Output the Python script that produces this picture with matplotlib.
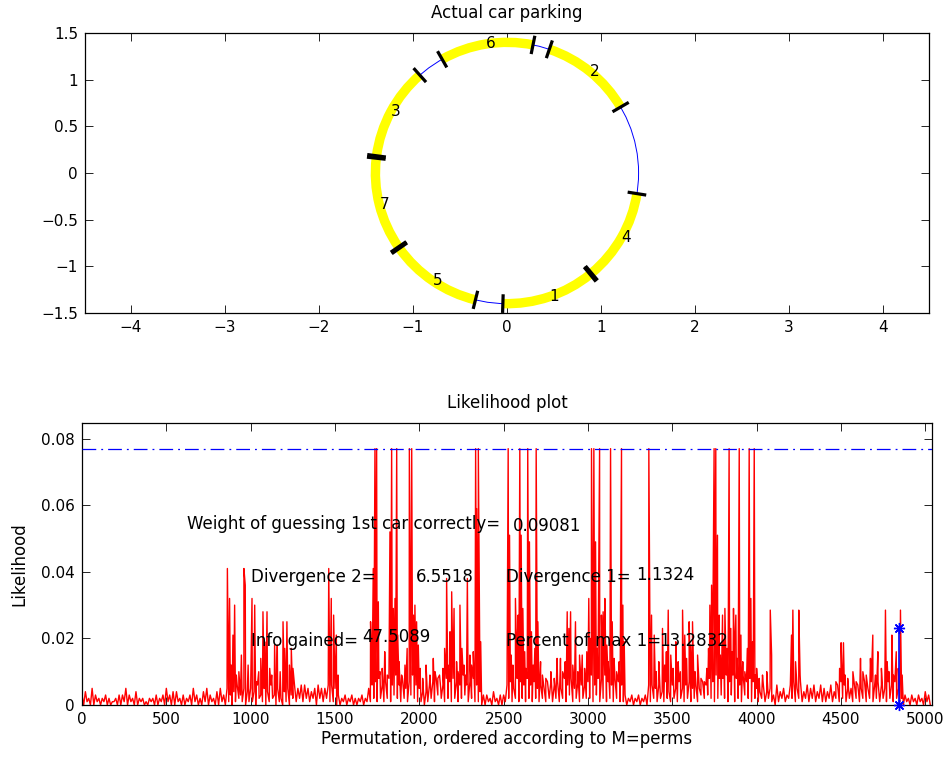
import matplotlib.pyplot as plt
import numpy as np
from matplotlib.patches import Arc, Circle
from matplotlib.ticker import FuncFormatter

plt.rcParams['font.family'] = ['DejaVu Sans']

# --- parking circle: cars laid along a circle of given radius ---
radius = 1.4
car_len = 1.0
car_ids = [1, 2, 3, 4, 5, 6, 7]
car_start = [268.2, 30.3, 131.5, 310.0, 215.2, 78.6, 173.5]  # deg, counter-clockwise

# --- likelihood of each permutation (units of 1e-3 for the noise strings) ---
# ceiling of the background every 20 permutations
noise_hi = ("3425322321 2335324221 2232353442 3235324532 4535346354 "
            "5463546352 4536566545 6556653232 3223256786 7869685796 "
            "5446789687 8769678643 3242336758 7686756577 6758685766 "
            "7968897687 6323232366 5647465756 7565768798 8979869787 "
            "5464536453 6757465646 5464676556 6575767657 6752323232 43")
# trough of the background, 10 permutations after each ceiling
noise_lo = ("0100101001 0010100100 1001010010 0101001010 0101012101 "
            "1021012010 1021212120 2121100101 0010112121 2132121321 "
            "1012132121 2123121100 1010012121 2121212121 2121312122 "
            "2131212121 1010101012 1212121212 1213232123 2131213212 "
            "1212101212 2121212121 1212121212 1212121212 1210101010 10")

# tall spikes
spike_perm = [862, 875, 895, 905, 915, 960, 968, 1008, 1024, 1034, 1073, 1083, 1097,
              1113, 1142, 1158, 1192, 1202, 1215, 1241, 1251, 1463, 1478, 1492, 1508, 1518,
              1711, 1727, 1737, 1747, 1757, 1767, 1826, 1836, 1846, 1856, 1866, 1872,
              1941, 1955, 1965, 1974, 1984, 1994, 2063, 2083, 2093, 2127, 2162, 2182,
              2192, 2206, 2221, 2241, 2253, 2285, 2300, 2334, 2340, 2350, 2364,
              2527, 2535, 2570, 2586, 2596, 2604, 2614, 2643, 2653, 2665, 2693, 2703,
              2719, 2817, 2837, 2877, 2887, 2897, 2926, 2950, 2966, 3005, 3021, 3035,
              3045, 3069, 3080, 3090, 3100, 3134, 3144, 3199, 3207, 3215, 3361,
              3377, 3393, 3442, 3476, 3491, 3521, 3561, 3574, 3600, 3610, 3620, 3650,
              3690, 3723, 3733, 3748, 3758, 3768, 3778, 3798, 3812, 3837, 3847, 3863,
              3877, 3897, 3907, 3956, 3966, 3976, 3986, 3992, 4035, 4081, 4089,
              4207, 4215, 4231, 4250, 4258, 4492, 4501, 4515, 4525, 4571, 4616, 4630,
              4675, 4689, 4705, 4719, 4764, 4774, 4802, 4812, 4828, 4853, 4863]
spike_val = [0.041, 0.032, 0.021, 0.030, 0.009, 0.041, 0.036, 0.032, 0.030, 0.007, 0.028, 0.019, 0.028,
             0.011, 0.018, 0.018, 0.025, 0.017, 0.025, 0.017, 0.011, 0.041, 0.032, 0.027, 0.021, 0.009,
             0.025, 0.041, 0.077, 0.077, 0.031, 0.010, 0.052, 0.077, 0.029, 0.032, 0.077, 0.021,
             0.077, 0.077, 0.027, 0.030, 0.025, 0.018, 0.009, 0.014, 0.010, 0.005, 0.038, 0.022,
             0.034, 0.029, 0.013, 0.030, 0.017, 0.038, 0.015, 0.077, 0.059, 0.077, 0.019,
             0.077, 0.051, 0.032, 0.027, 0.077, 0.051, 0.029, 0.077, 0.049, 0.022, 0.077, 0.025,
             0.013, 0.014, 0.014, 0.028, 0.023, 0.028, 0.025, 0.015, 0.015, 0.032, 0.077, 0.077,
             0.049, 0.077, 0.027, 0.028, 0.032, 0.077, 0.025, 0.077, 0.030, 0.019, 0.077,
             0.027, 0.021, 0.023, 0.0285, 0.015, 0.019, 0.0285, 0.021, 0.025, 0.018, 0.025, 0.015,
             0.007, 0.030, 0.036, 0.077, 0.077, 0.051, 0.027, 0.027, 0.029, 0.077, 0.023, 0.029,
             0.027, 0.077, 0.021, 0.077, 0.032, 0.019, 0.077, 0.009, 0.009, 0.0285, 0.015,
             0.021, 0.0285, 0.013, 0.0285, 0.009, 0.011, 0.0187, 0.0187, 0.009, 0.010, 0.014, 0.010,
             0.014, 0.021, 0.009, 0.016, 0.0285, 0.013, 0.021, 0.009, 0.016, 0.0285, 0.009]

# smaller spikes among the busy stretches
minor_perm = [885, 930, 945, 985, 1048, 1060, 1125, 1175, 1230,
              1718, 1780, 1795, 1810, 1880, 1895, 1915, 1928, 2005, 2020, 2040,
              2110, 2140, 2150, 2170, 2230, 2265, 2275, 2310, 2320,
              2545, 2555, 2580, 2625, 2632, 2675, 2685, 2730, 2750, 2780, 2800, 2850, 2865,
              2910, 2940, 2980, 2993, 3013, 3055, 3060, 3112, 3120, 3155, 3170, 3185,
              3405, 3420, 3455, 3465, 3505, 3535, 3548, 3585, 3635, 3670, 3705, 3715, 3740,
              3785, 3805, 3825, 3855, 3870, 3885, 3918, 3930, 3945, 4000, 4015, 4060,
              4470, 4540, 4590, 4650, 4740, 4785, 4840]
minor_val = [0.012, 0.010, 0.015, 0.012, 0.010, 0.014, 0.009, 0.010, 0.012,
             0.012, 0.011, 0.016, 0.009, 0.013, 0.009, 0.012, 0.017, 0.011, 0.008, 0.012,
             0.008, 0.011, 0.017, 0.012, 0.010, 0.012, 0.009, 0.012, 0.016,
             0.015, 0.012, 0.018, 0.016, 0.011, 0.012, 0.017, 0.009, 0.008, 0.010, 0.008, 0.010, 0.013,
             0.012, 0.010, 0.011, 0.016, 0.020, 0.017, 0.012, 0.018, 0.013, 0.014, 0.010, 0.013,
             0.010, 0.013, 0.012, 0.016, 0.011, 0.013, 0.010, 0.014, 0.010, 0.008, 0.011, 0.017, 0.020,
             0.015, 0.019, 0.017, 0.016, 0.018, 0.014, 0.013, 0.010, 0.017, 0.011, 0.008, 0.010,
             0.007, 0.008, 0.007, 0.009, 0.011, 0.010, 0.011]

true_perm = 4847
true_lik = 0.023

stat_names = ["Weight of guessing 1st car correctly=", "Divergence 2=", "Divergence 1=",
              "Info gained=", "Percent of max 1="]
stat_values = [0.09081, 6.5518, 1.1324, 47.5089, 13.2832]


def matlab_fmt(v, pos):
    return ('%g' % v).replace('-', '\u2212')


def style_axes(ax):
    ax.tick_params(direction='in', top=True, right=True, length=6, width=0.6,
                   labelsize=11, pad=5)
    for s in ax.spines.values():
        s.set_linewidth(0.9)
    ax.xaxis.set_major_formatter(FuncFormatter(matlab_fmt))
    ax.yaxis.set_major_formatter(FuncFormatter(matlab_fmt))


fig = plt.figure(figsize=(9.5, 7.6), dpi=100)

# ---------------- top: parking layout ----------------
ax1 = fig.add_axes([85 / 950, 447 / 760, 844 / 950, 280 / 760])
ax1.add_patch(Circle((0, 0), radius, fill=False, ec='blue', lw=0.7, zorder=1))
for cid, start in zip(car_ids, car_start):
    span = np.degrees(car_len / radius)
    ax1.add_patch(Arc((0, 0), 2 * radius, 2 * radius, theta1=start, theta2=start + span,
                      color='yellow', lw=6.8, zorder=2))
    for a in (start, start + span):
        t = np.radians(a)
        ax1.plot([(radius - 0.1) * np.cos(t), (radius + 0.1) * np.cos(t)],
                 [(radius - 0.1) * np.sin(t), (radius + 0.1) * np.sin(t)],
                 color='black', lw=2.3, solid_capstyle='butt', zorder=3)
    mid = np.radians(start + span / 2)
    ax1.text(radius * np.cos(mid), radius * np.sin(mid), str(cid), fontsize=11,
             ha='left', va='center', zorder=4)
ax1.set_xlim(-4.49, 4.49)
ax1.set_ylim(-1.5, 1.5)
ax1.set_xticks(np.arange(-4, 5, 1))
ax1.set_yticks(np.arange(-1.5, 1.6, 0.5))
style_axes(ax1)
ax1.set_title('Actual car parking', fontsize=12, pad=11)

# ---------------- bottom: likelihood per permutation ----------------
hi = np.array([int(c) for c in noise_hi.replace(' ', '')]) * 1e-3
lo = np.array([int(c) for c in noise_lo.replace(' ', '')]) * 1e-3
perm = np.concatenate([np.arange(len(hi)) * 20, np.arange(len(lo)) * 20 + 10,
                       spike_perm, minor_perm])
lik = np.concatenate([hi, lo, spike_val, minor_val])
order = np.argsort(perm, kind='stable')
perm, lik = perm[order], lik[order]
max_lik = lik.max()

ax2 = fig.add_axes([82 / 950, 55 / 760, 850 / 950, 282 / 760])
ax2.plot(perm, lik, color='red', lw=1.0, zorder=2)
ax2.plot([0, 5040], [max_lik, max_lik], color='blue', lw=0.9, dashes=(11, 4, 1.5, 4), zorder=3)
# likelihood of the true parking order
ax2.plot([true_perm, true_perm], [0, true_lik], color='blue', lw=1.2,
         marker=(8, 2, 0), ms=8, mew=1.0, zorder=4, clip_on=False)

stat_xy = [(620, 0.0545), (1002, 0.0383), (2515, 0.0383), (1002, 0.0193), (2515, 0.0193)]
value_xy = [(2554, 0.0539), (1977, 0.0383), (3286, 0.0389), (1664, 0.0203), (3424, 0.0193)]
for name, val, (sx, sy), (vx, vy) in zip(stat_names, stat_values, stat_xy, value_xy):
    ax2.text(sx, sy, name, fontsize=12, ha='left', va='center', zorder=5)
    ax2.text(vx, vy, '%g' % val, fontsize=12, ha='left', va='center', zorder=5)

ax2.set_xlim(0, 5040)
ax2.set_ylim(0, 1.1 * max_lik)
ax2.set_xticks(np.arange(0, 5001, 500))
ax2.set_yticks(np.arange(0, 0.081, 0.02))
style_axes(ax2)
ax2.set_title('Likelihood plot', fontsize=12, pad=11)
ax2.set_xlabel('Permutation, ordered according to M=perms', fontsize=12, labelpad=2)
ax2.set_ylabel('Likelihood', fontsize=12, labelpad=9)

fig.savefig('out.png', dpi=100)
